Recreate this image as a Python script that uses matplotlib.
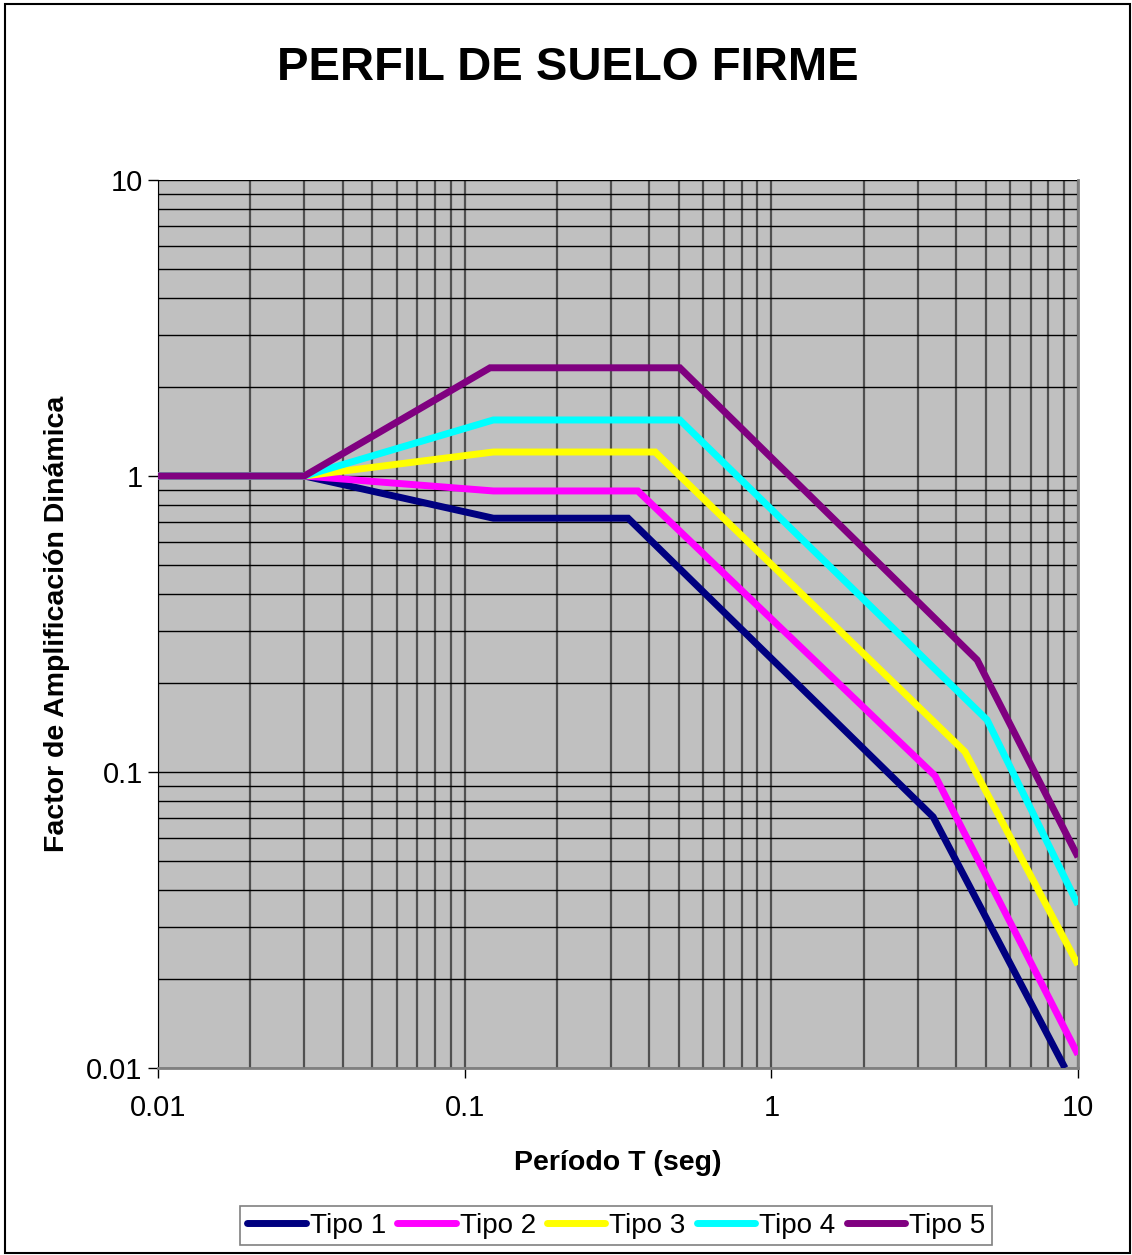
import matplotlib
matplotlib.use("Agg")
import matplotlib.pyplot as plt
from matplotlib.patches import Rectangle
from matplotlib.ticker import LogLocator, NullFormatter, FixedLocator, FixedFormatter

plt.rcParams['font.family'] = ['Liberation Sans', 'DejaVu Sans']

# periods (s) and amplification factors
t_tipo1 = [0.01, 0.03, 0.124, 0.341, 3.37, 9.07]
f_tipo1 = [1.0, 1.0, 0.72, 0.72, 0.0705, 0.01]
t_tipo2 = [0.01, 0.03, 0.124, 0.367, 3.42, 10.0]
f_tipo2 = [1.0, 1.0, 0.89, 0.89, 0.097, 0.0111]
t_tipo3 = [0.01, 0.03, 0.124, 0.418, 4.28, 10.0]
f_tipo3 = [1.0, 1.0, 1.205, 1.205, 0.117, 0.0223]
t_tipo4 = [0.01, 0.03, 0.124, 0.503, 5.05, 10.0]
f_tipo4 = [1.0, 1.0, 1.546, 1.546, 0.150, 0.0356]
t_tipo5 = [0.01, 0.03, 0.121, 0.503, 4.69, 10.0]
f_tipo5 = [1.0, 1.0, 2.32, 2.32, 0.239, 0.0516]

series = [
    ("Tipo 1", t_tipo1, f_tipo1, "#000080"),
    ("Tipo 2", t_tipo2, f_tipo2, "#FF00FF"),
    ("Tipo 3", t_tipo3, f_tipo3, "#FFFF00"),
    ("Tipo 4", t_tipo4, f_tipo4, "#00FFFF"),
    ("Tipo 5", t_tipo5, f_tipo5, "#800080"),
]
tick_vals = [0.01, 0.1, 1, 10]
tick_labels = ["0.01", "0.1", "1", "10"]

fig = plt.figure(figsize=(11.32, 12.55), dpi=100)
fig.patches.append(Rectangle((5 / 1132, 2 / 1255), 1125 / 1132, 1249 / 1255,
                             transform=fig.transFigure, fill=False,
                             edgecolor="black", linewidth=1.5))

ax = fig.add_axes([0.1396, 0.149, 0.8127, 0.7076])
ax.set_facecolor("#C0C0C0")
ax.set_xscale("log")
ax.set_yscale("log")
ax.set_xlim(0.01, 10)
ax.set_ylim(0.01, 10)

for name, t, f, c in series:
    ax.plot(t, f, color=c, linewidth=5, label=name, solid_capstyle="butt",
            solid_joinstyle="miter", clip_on=True, zorder=3)

ax.xaxis.set_major_locator(FixedLocator(tick_vals))
ax.xaxis.set_major_formatter(FixedFormatter(tick_labels))
ax.yaxis.set_major_locator(FixedLocator(tick_vals))
ax.yaxis.set_major_formatter(FixedFormatter(tick_labels))
ax.xaxis.set_minor_locator(LogLocator(base=10, subs=range(2, 10)))
ax.yaxis.set_minor_locator(LogLocator(base=10, subs=range(2, 10)))
ax.xaxis.set_minor_formatter(NullFormatter())
ax.yaxis.set_minor_formatter(NullFormatter())

ax.grid(True, axis="x", which="both", color="#505050", linewidth=1.6, zorder=1)
ax.grid(True, axis="y", which="both", color="black", linewidth=1.0, zorder=1)
ax.set_axisbelow(True)

ax.tick_params(axis="both", which="major", labelsize=21, length=7, width=1,
               direction="out", color="black")
ax.tick_params(axis="both", which="minor", length=0)
ax.tick_params(axis="x", pad=12)
ax.tick_params(axis="y", pad=4)
ax.spines["top"].set_visible(False)
ax.spines["right"].set_color("#808080")
ax.spines["bottom"].set_color("#808080")
ax.spines["left"].set_color("black")
ax.spines["right"].set_linewidth(2)
ax.spines["bottom"].set_linewidth(2)

ax.set_xlabel("Período T (seg)", fontsize=20.5, fontweight="bold", labelpad=20)
ax.set_ylabel("Factor de Amplificación Dinámica", fontsize=20.5, fontweight="bold",
              labelpad=12)

fig.text(0.502, 0.946, "PERFIL DE SUELO FIRME", ha="center", va="center",
         fontsize=34, fontweight="bold")

leg = fig.legend(loc="center", bbox_to_anchor=(0.5445, 0.0235), ncol=5,
                 fontsize=20, frameon=True, fancybox=False, edgecolor="#606060",
                 handlelength=2.1, handletextpad=0.15, columnspacing=0.4,
                 borderpad=0.25)
leg.get_frame().set_linewidth(1.2)
for line in leg.get_lines():
    line.set_solid_capstyle("round")

fig.savefig("out.png", dpi=100)
